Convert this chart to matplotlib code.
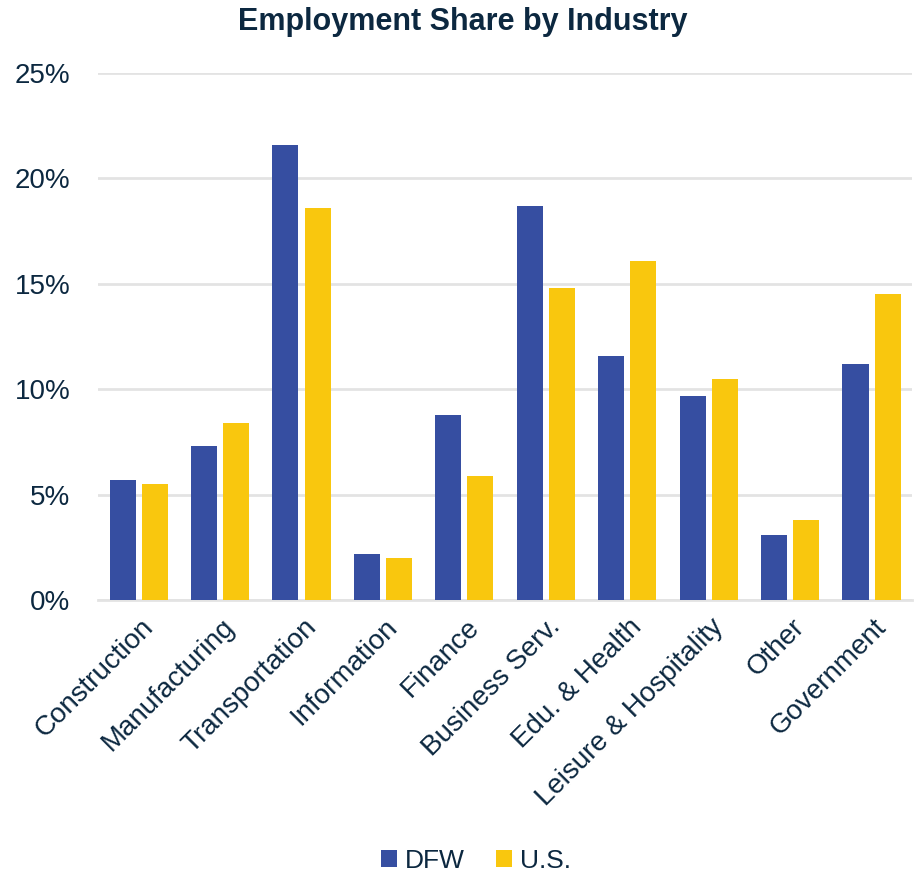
import matplotlib.pyplot as plt
import numpy as np

plt.rcParams['font.family'] = ['Liberation Sans', 'DejaVu Sans']

categories = ['Construction', 'Manufacturing', 'Transportation', 'Information', 'Finance',
              'Business Serv.', 'Edu. & Health', 'Leisure & Hospitality', 'Other', 'Government']
dfw = [5.7, 7.3, 21.6, 2.2, 8.8, 18.7, 11.6, 9.7, 3.1, 11.2]
us = [5.5, 8.4, 18.6, 2.0, 5.9, 14.8, 16.1, 10.5, 3.8, 14.5]
yticks = [0, 5, 10, 15, 20, 25]

text_col = '#0c2840'
dfw_col = '#364ea1'
us_col = '#f9c70e'

fig = plt.figure(figsize=(9.15, 8.73), dpi=100)
ax = fig.add_axes([0.107, 0.3127, 0.89, 0.6036])

x = np.arange(len(categories))
w = 0.32
ax.bar(x - 0.197, dfw, w, color=dfw_col, label='DFW', zorder=3)
ax.bar(x + 0.197, us, w, color=us_col, label='U.S.', zorder=3)

ax.set_xlim(-0.5, len(categories) - 0.5)
ax.set_ylim(0, 25)
ax.set_yticks(yticks)
ax.set_yticklabels([f'{t}%' for t in yticks], fontsize=20, color=text_col)
ax.yaxis.grid(True, color='#e3e3e3', linewidth=2, zorder=0)
ax.tick_params(axis='y', length=0, pad=20)
ax.tick_params(axis='x', length=0, pad=10)
ax.set_xticks(x + 0.02)
ax.set_xticklabels(categories, rotation=45, ha='right', rotation_mode='anchor',
                   fontsize=20, color=text_col)
for s in ['top', 'right', 'left']:
    ax.spines[s].set_visible(False)
ax.spines['bottom'].set_color('#e3e3e3')
ax.spines['bottom'].set_linewidth(2)

fig.text(0.506, 0.975, 'Employment Share by Industry', ha='center', va='center',
         fontsize=22, fontweight='bold', color=text_col)

leg = fig.legend(loc='center', bbox_to_anchor=(0.52, 0.014), ncol=2, frameon=False,
                 fontsize=19, handlelength=0.6, handleheight=0.6, handletextpad=0.3,
                 columnspacing=1.2)
for t in leg.get_texts():
    t.set_color(text_col)

fig.savefig('out.png', dpi=100)
